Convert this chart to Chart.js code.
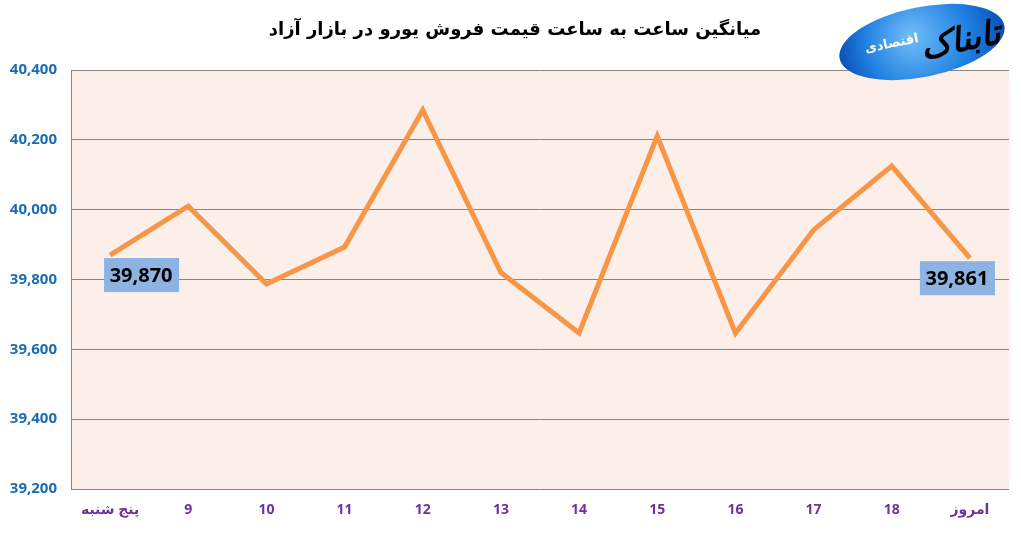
<!DOCTYPE html>
<html>
<head>
<meta charset="utf-8">
<script src="https://cdn.jsdelivr.net/npm/chart.js@4"></script>
<style>
  html, body { margin: 0; padding: 0; background: #fff; }
  canvas { display: block; }
</style>
</head>
<body>
<canvas id="euroChart" width="1021" height="533"></canvas>
<script>
// data
const days = ['پنج شنبه', '9', '10', '11', '12', '13', '14', '15', '16', '17', '18', 'امروز'];
const euroPrices = [39870, 40010, 39787, 39893, 40285, 39820, 39647, 40211, 39646, 39942, 40125, 39861];
const labelledPoints = [0, 11]; // only first and last value get a box
const yMin = 39200;
const yMax = 40400;
const yStep = 200;
const chartTitle = 'میانگین ساعت به ساعت قیمت فروش یورو در بازار آزاد';

// pink plot background
const plotBackground = {
    id: 'plotBackground',
    beforeDraw(chart) {
        const { ctx, chartArea } = chart;
        ctx.save();
        ctx.fillStyle = '#fcefe9';
        ctx.fillRect(chartArea.left, chartArea.top, chartArea.right - chartArea.left, chartArea.bottom - chartArea.top);
        ctx.restore();
    }
};

// title drawn centred a bit right of the canvas middle, like the original
const titleText = {
    id: 'titleText',
    afterDraw(chart) {
        const ctx = chart.ctx;
        ctx.save();
        ctx.font = 'bold 18px "DejaVu Sans", sans-serif';
        ctx.fillStyle = '#000';
        ctx.textAlign = 'center';
        ctx.textBaseline = 'middle';
        ctx.fillText(chartTitle, 515, 30);
        ctx.restore();
    }
};

// value boxes under first / last point
const valueBoxes = {
    id: 'valueBoxes',
    afterDatasetsDraw(chart) {
        const ctx = chart.ctx;
        const meta = chart.getDatasetMeta(0);
        ctx.save();
        ctx.font = 'bold 20px "Open Sans", sans-serif';
        ctx.textAlign = 'center';
        ctx.textBaseline = 'middle';
        labelledPoints.forEach((i, n) => {
            const pt = meta.data[i];
            const cx = n === 0 ? pt.x + 31 : pt.x - 13;
            const cy = pt.y + 20;
            ctx.fillStyle = '#8db3e2';
            ctx.fillRect(cx - 37, cy - 17, 75, 34);
            ctx.fillStyle = '#000';
            ctx.fillText(euroPrices[i].toLocaleString('en-US'), cx, cy + 1);
        });
        ctx.restore();
    }
};

// little logo top right
const logo = {
    id: 'logo',
    afterDraw(chart) {
        const ctx = chart.ctx;
        ctx.save();
        ctx.translate(922, 42);
        ctx.rotate(-0.2);
        const g = ctx.createRadialGradient(-10, -8, 5, 0, 0, 85);
        g.addColorStop(0, '#6ab8f7');
        g.addColorStop(0.6, '#1f7fe0');
        g.addColorStop(1, '#0a4fb5');
        ctx.fillStyle = g;
        ctx.beginPath();
        ctx.ellipse(0, 0, 84, 35, 0, 0, Math.PI * 2);
        ctx.fill();
        ctx.fillStyle = '#000';
        ctx.font = 'italic bold 34px "DejaVu Sans", sans-serif';
        ctx.textAlign = 'center';
        ctx.textBaseline = 'middle';
        ctx.fillText('تابناک', 38, 8);
        ctx.fillStyle = '#fff';
        ctx.font = 'bold 13px "DejaVu Sans", sans-serif';
        ctx.fillText('اقتصادی', -30, -4);
        ctx.restore();
    }
};

new Chart(document.getElementById('euroChart'), {
    type: 'line',
    data: {
        labels: days,
        datasets: [{
            data: euroPrices,
            borderColor: '#f79646',
            borderWidth: 5,
            pointRadius: 0,
            tension: 0,
            fill: false
        }]
    },
    options: {
        responsive: false,
        animation: false,
        layout: { padding: { left: 0, right: 12, top: 70, bottom: 0 } },
        plugins: {
            legend: { display: false },
            tooltip: { enabled: false },
            title: { display: false }
        },
        scales: {
            x: {
                offset: true,
                grid: { display: false, drawTicks: false },
                border: { display: false },
                ticks: {
                    color: '#7030a0',
                    padding: 13,
                    maxRotation: 0,
                    font: { family: '"Open Sans", "DejaVu Sans", sans-serif', size: 14, weight: 'bold' }
                },
                afterFit(scale) { scale.height = 44; }
            },
            y: {
                min: yMin,
                max: yMax,
                grid: { color: '#8c8484', lineWidth: 1, drawTicks: false },
                border: { color: '#8c8484' },
                ticks: {
                    stepSize: yStep,
                    color: '#1a6db5',
                    padding: 14,
                    font: { family: '"Open Sans", sans-serif', size: 15, weight: 'bold' },
                    callback: v => v.toLocaleString('en-US')
                },
                afterFit(scale) { scale.width = 71; }
            }
        }
    },
    plugins: [plotBackground, valueBoxes, titleText, logo]
});
</script>
</body>
</html>
